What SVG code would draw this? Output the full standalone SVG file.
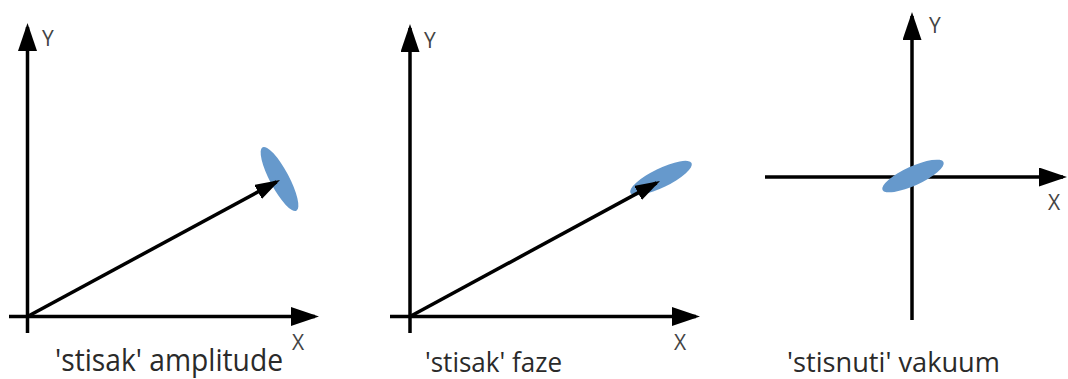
<svg xmlns="http://www.w3.org/2000/svg" width="1068" height="379" viewBox="0 0 1068 379">
<style>
.ax-a{stroke:#000;stroke-width:3.5;fill:none;marker-end:url(#axisHead)}
.vec{stroke:#000;stroke-width:3.5;fill:none;marker-end:url(#vecHead)}
.blob{fill:#6699CC}
.lbl{font-family:"Open Sans","Noto Sans",sans-serif;fill:#444;font-size:21px}
.cap{font-family:"Open Sans","Noto Sans",sans-serif;fill:#2a2a2a;}
</style>
<defs>
<marker id="axisHead" viewBox="0 0 28 19" refX="24" refY="9.5" markerWidth="28" markerHeight="19" markerUnits="userSpaceOnUse" orient="auto">
<path d="M0,0 L28,9.5 L0,19 Z" fill="#000"/>
</marker>
<marker id="vecHead" viewBox="0 0 25 16" refX="21" refY="8" markerWidth="25" markerHeight="16" markerUnits="userSpaceOnUse" orient="auto">
<path d="M0,0 L25,8 L0,16 Z" fill="#000"/>
</marker>
</defs>
<rect width="1068" height="379" fill="#fff"/>
<g id="panel-amplitude">
<ellipse class="blob" cx="279.5" cy="179" rx="36" ry="9.5" transform="rotate(62 279.5 179)"/>
<text class="lbl" x="42" y="46">Y</text>
<text class="lbl" x="292" y="350" font-size="22">X</text>
<text class="cap" font-size="28" transform="translate(55 371) scale(1 1.1)" textLength="228" lengthAdjust="spacingAndGlyphs">'stisak' amplitude</text>
</g>
<g id="panel-faze">
<ellipse class="blob" cx="661" cy="178" rx="34" ry="9.5" transform="rotate(-26 661 178)"/>
<text class="lbl" x="424" y="48">Y</text>
<text class="lbl" x="674" y="350" font-size="22">X</text>
<text class="cap" font-size="27" x="425" y="372" textLength="137" lengthAdjust="spacingAndGlyphs">'stisak' faze</text>
</g>
<g id="panel-vakuum">
<text class="lbl" x="929" y="33">Y</text>
<text class="lbl" x="1048" y="210" font-size="22">X</text>
<text class="cap" font-size="27" x="787" y="372" textLength="213" lengthAdjust="spacingAndGlyphs">'stisnuti' vakuum</text>
</g>
<g id="connectors">
<line class="ax-a" x1="27.5" y1="333" x2="27.5" y2="27"/>
<line class="ax-a" x1="9" y1="316.5" x2="315" y2="316.5"/>
<line class="vec" x1="27.5" y1="316.5" x2="276.5" y2="181.9"/>
<line class="ax-a" x1="410" y1="333" x2="410" y2="28"/>
<line class="ax-a" x1="390" y1="316.5" x2="696" y2="316.5"/>
<line class="vec" x1="410" y1="316.5" x2="656.5" y2="182.9"/>
<line class="ax-a" x1="912" y1="320" x2="912" y2="16"/>
<line class="ax-a" x1="765" y1="177" x2="1063" y2="177"/>
</g>
<g id="vakuum-blob">
<ellipse class="blob" cx="913" cy="176" rx="33.5" ry="9.5" transform="rotate(-24.5 913 176)"/>
</g>
</svg>
